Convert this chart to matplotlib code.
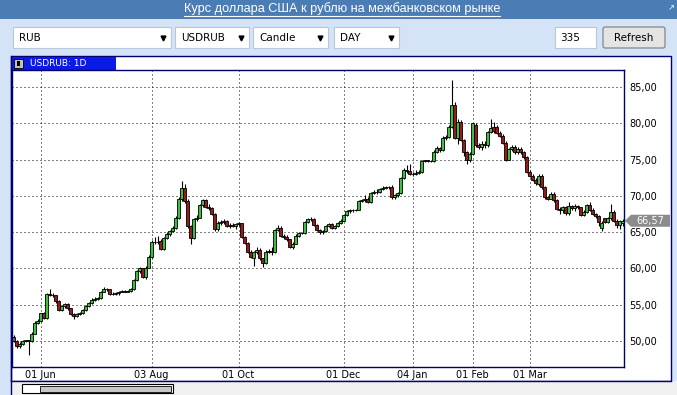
import numpy as np
import matplotlib
matplotlib.use("Agg")
import matplotlib.pyplot as plt
from matplotlib.patches import Rectangle, Polygon, FancyBboxPatch

# USDRUB daily candles, late May 2015 - end of March 2016
opens = [50.6, 50.0, 49.3, 49.6, 50.0, 50.1, 50.0, 51.0, 52.5, 52.8,
         53.8, 53.2, 56.5, 56.4, 56.3, 55.5, 54.3, 54.8, 55.1, 54.5,
         53.7, 53.4, 53.7, 53.8, 54.3, 54.8, 55.2, 55.7, 55.8, 55.9,
         56.8, 57.2, 57.1, 56.5, 56.5, 56.6, 56.8, 56.9, 56.8, 56.9,
         57.1, 58.4, 59.7, 60.0, 58.8, 60.1, 61.6, 63.7, 63.6, 63.8,
         62.7, 64.2, 64.8, 65.1, 65.6, 67.0, 69.6, 71.1, 69.3, 65.8,
         64.2, 66.8, 67.0, 68.7, 69.4, 68.5, 68.3, 67.5, 65.4, 66.3,
         66.4, 66.5, 65.9, 66.0, 65.9, 66.1, 66.2, 64.4, 63.5, 62.3,
         61.4, 62.2, 62.6, 61.4, 60.8, 62.3, 62.4, 62.2, 65.3, 65.6,
         64.5, 64.4, 64.0, 63.0, 63.4, 64.5, 64.9, 64.9, 66.4, 66.8,
         66.8, 66.0, 65.3, 65.0, 65.1, 65.8, 66.1, 65.6, 65.8, 66.2,
         66.6, 67.3, 67.9, 68.0, 68.0, 68.1, 69.3, 69.4, 69.5, 69.1,
         70.4, 70.6, 70.5, 71.0, 71.1, 71.2, 71.2, 69.8, 70.1, 70.4,
         72.4, 73.6, 73.4, 73.0, 73.0, 73.1, 73.3, 74.8, 74.9, 74.8,
         74.8, 76.1, 76.6, 76.3, 78.0, 78.1, 79.5, 82.5, 78.0, 80.2,
         77.7, 76.0, 75.0, 75.8, 79.8, 77.0, 76.8, 77.2, 77.0, 78.8,
         79.5, 79.5, 78.7, 78.3, 77.3, 75.0, 76.4, 76.8, 76.0, 76.5,
         76.0, 75.3, 73.3, 72.8, 72.2, 71.6, 72.8, 71.2, 69.8, 69.6,
         70.3, 69.4, 68.2, 68.0, 68.4, 67.7, 68.6, 68.3, 68.6, 68.4,
         67.4, 67.8, 68.7, 68.1, 67.5, 67.2, 65.6, 66.9, 66.4, 66.9,
         67.8, 66.6, 66.0, 66.2]
highs = [50.8, 50.1, 49.8, 50.2, 50.2, 50.2, 51.2, 52.7, 53.0, 53.9,
         54.0, 56.6, 57.2, 56.6, 56.4, 55.6, 54.9, 55.3, 55.2, 54.6,
         53.9, 53.9, 54.0, 54.4, 54.9, 55.4, 55.9, 56.0, 56.1, 56.9,
         57.4, 57.3, 57.2, 56.7, 56.7, 56.9, 57.0, 57.0, 57.0, 57.3,
         58.6, 59.8, 60.2, 60.1, 60.3, 61.8, 63.9, 64.4, 64.5, 64.0,
         64.4, 65.0, 65.3, 65.8, 67.2, 69.8, 72.1, 71.7, 69.5, 66.0,
         67.0, 67.3, 68.9, 69.6, 69.5, 68.9, 68.5, 67.7, 66.5, 66.7,
         66.8, 66.7, 66.3, 66.3, 66.2, 66.4, 66.3, 64.5, 63.6, 62.5,
         62.4, 62.9, 62.8, 61.5, 62.5, 62.7, 62.9, 65.4, 66.0, 65.8,
         64.8, 64.6, 64.1, 63.6, 64.7, 65.0, 65.0, 66.5, 67.0, 67.1,
         66.9, 66.1, 65.5, 65.3, 66.0, 66.3, 66.2, 66.0, 66.4, 66.8,
         67.4, 68.1, 68.2, 68.2, 68.2, 69.4, 69.6, 70.1, 69.8, 70.5,
         70.8, 70.9, 71.1, 71.4, 71.3, 71.4, 71.5, 70.3, 70.6, 72.6,
         73.8, 74.2, 74.4, 73.3, 73.5, 73.6, 75.0, 75.0, 75.0, 74.9,
         76.3, 76.9, 76.8, 78.2, 78.4, 79.8, 86.0, 83.0, 80.6, 80.5,
         77.9, 76.2, 76.0, 80.1, 80.0, 77.3, 77.5, 77.6, 79.0, 80.6,
         80.2, 79.7, 78.9, 78.5, 77.5, 76.6, 77.0, 77.0, 76.7, 76.7,
         76.2, 75.5, 73.5, 73.0, 72.5, 73.0, 73.0, 71.3, 70.0, 70.5,
         70.5, 69.5, 68.4, 68.6, 68.6, 69.2, 68.8, 68.9, 68.8, 68.5,
         68.0, 68.9, 69.2, 68.3, 67.7, 67.4, 66.5, 67.0, 67.1, 68.9,
         68.0, 66.8, 66.7, 66.8]
lows = [49.9, 49.1, 49.1, 49.5, 49.8, 48.1, 49.9, 50.9, 52.3, 52.6,
        53.0, 53.1, 56.2, 56.1, 55.3, 54.1, 54.2, 54.6, 54.3, 53.6,
        53.1, 53.3, 53.6, 53.7, 54.2, 54.7, 55.1, 55.5, 55.6, 55.8,
        56.7, 56.9, 56.4, 56.3, 56.3, 56.4, 56.7, 56.7, 56.7, 56.8,
        57.0, 58.3, 59.4, 58.7, 58.6, 60.0, 61.5, 63.3, 63.3, 62.5,
        62.6, 64.0, 64.5, 65.0, 65.4, 66.8, 69.3, 69.0, 65.6, 63.4,
        64.0, 66.5, 66.9, 68.5, 68.3, 68.1, 67.3, 65.2, 65.1, 66.0,
        66.1, 65.7, 65.6, 65.7, 65.5, 65.8, 64.2, 63.3, 62.1, 61.4,
        60.3, 62.0, 61.2, 60.2, 60.6, 62.1, 61.9, 62.1, 65.1, 64.3,
        64.1, 63.8, 62.8, 62.7, 63.3, 64.4, 64.7, 64.8, 66.3, 66.6,
        65.9, 65.1, 64.8, 64.8, 65.0, 65.7, 65.4, 65.4, 65.7, 66.1,
        66.5, 67.2, 67.7, 67.8, 67.9, 68.0, 69.1, 69.2, 69.0, 69.0,
        70.2, 70.3, 70.4, 70.8, 70.9, 71.0, 69.6, 69.6, 69.9, 70.3,
        72.3, 73.2, 72.9, 72.8, 72.9, 73.0, 73.2, 74.7, 74.7, 74.7,
        74.7, 75.9, 76.0, 76.2, 77.7, 78.0, 79.3, 77.8, 77.1, 77.5,
        75.5, 74.4, 74.6, 75.7, 76.7, 76.5, 76.3, 76.6, 76.8, 78.6,
        78.7, 78.5, 78.1, 77.1, 74.8, 74.9, 76.2, 75.8, 75.8, 75.8,
        75.1, 73.1, 72.6, 72.0, 71.5, 71.4, 71.0, 69.6, 69.4, 69.5,
        69.2, 68.0, 67.5, 67.7, 67.3, 67.4, 68.1, 67.9, 68.2, 67.2,
        67.2, 67.7, 67.9, 67.3, 67.0, 65.9, 65.2, 66.2, 66.2, 66.7,
        66.4, 65.6, 65.5, 65.9]
closes = [50.0, 49.3, 49.6, 50.0, 50.1, 50.0, 51.0, 52.5, 52.8, 53.8,
          53.2, 56.5, 56.4, 56.3, 55.5, 54.3, 54.8, 55.1, 54.5, 53.7,
          53.4, 53.7, 53.8, 54.3, 54.8, 55.2, 55.7, 55.8, 55.9, 56.8,
          57.2, 57.1, 56.5, 56.5, 56.6, 56.8, 56.9, 56.8, 56.9, 57.1,
          58.4, 59.7, 60.0, 58.8, 60.1, 61.6, 63.7, 63.6, 63.7, 62.7,
          64.2, 64.8, 65.1, 65.6, 67.0, 69.6, 71.1, 69.3, 65.8, 64.2,
          66.8, 67.0, 68.7, 69.4, 68.5, 68.3, 67.5, 65.4, 66.3, 66.4,
          66.5, 65.9, 66.0, 65.9, 66.1, 66.2, 64.4, 63.5, 62.3, 61.6,
          62.2, 62.6, 61.4, 60.8, 62.3, 62.4, 62.2, 65.3, 65.6, 64.5,
          64.4, 64.0, 63.0, 63.4, 64.5, 64.9, 64.9, 66.4, 66.8, 66.8,
          66.0, 65.3, 65.0, 65.1, 65.8, 66.1, 65.6, 65.8, 66.2, 66.6,
          67.3, 67.9, 68.0, 68.0, 68.1, 69.3, 69.4, 69.5, 69.1, 70.4,
          70.6, 70.5, 71.0, 71.1, 71.2, 71.2, 69.8, 70.1, 70.4, 72.4,
          73.6, 73.4, 73.0, 73.0, 73.1, 73.3, 74.8, 74.9, 74.8, 74.8,
          76.1, 76.6, 76.3, 78.0, 78.1, 79.5, 82.5, 78.0, 80.2, 77.7,
          76.0, 75.0, 75.8, 80.0, 77.0, 76.8, 77.2, 77.0, 78.8, 79.4,
          78.9, 78.7, 78.3, 77.3, 75.0, 76.4, 76.8, 76.0, 76.5, 76.0,
          75.3, 73.3, 72.8, 72.2, 71.8, 72.8, 71.2, 69.8, 69.6, 70.3,
          69.4, 68.2, 68.0, 68.4, 67.7, 68.6, 68.3, 68.6, 68.4, 67.4,
          67.8, 68.7, 68.1, 67.5, 67.2, 66.4, 66.2, 66.4, 66.9, 67.8,
          66.6, 66.0, 66.5, 66.57]

tick_bars = [9, 46, 75, 110, 133, 153, 172]
tick_labels = ['01 Jun', '03 Aug', '01 Oct', '01 Dec', '04 Jan', '01 Feb', '01 Mar']
price_ticks = [50, 55, 60, 65, 70, 75, 80, 85]

title = "Курс доллара США к рублю на межбанковском рынке"
W, H = 677, 395
NAVY = '#00006e'

fig = plt.figure(figsize=(W / 100, H / 100), dpi=100)
fig.patch.set_facecolor('#d4e3f6')

# background layer in pixel coordinates (y down)
bg = fig.add_axes([0, 0, 1, 1], zorder=-1)
bg.set_xlim(0, W)
bg.set_ylim(H, 0)
bg.axis('off')


def box(x0, y0, x1, y1, **kw):
    bg.add_patch(Rectangle((x0, y0), x1 - x0, y1 - y0, **kw))


# header bar + title
box(0, 0, W, 19, facecolor='#4b7cb3', edgecolor='none')
t = bg.text(342, 9, title, color='white', fontsize=9.2, ha='center', va='center',
            family=['Liberation Sans', 'DejaVu Sans'])
bg.text(671, 8, '\u2197', color='white', fontsize=6, ha='center', va='center')

# controls row
for x0, x1, label in [(13, 171, 'RUB'), (175, 249, 'USDRUB'), (253, 328, 'Candle'), (334, 399, 'DAY')]:
    box(x0, 27, x1, 48, facecolor='white', edgecolor='#b8c8dc', lw=0.8)
    bg.text(x0 + 6, 38, label, fontsize=7.5, va='center', ha='left')
    bg.plot([x1 - 8], [38], marker='v', ms=3.5, color='black')
box(555, 27, 596, 48, facecolor='white', edgecolor='#b8c8dc', lw=0.8)
bg.text(560, 38, '335', fontsize=7.5, va='center', ha='left')
bg.add_patch(FancyBboxPatch((603, 27), 62, 21, boxstyle='round,pad=0,rounding_size=2',
                            facecolor='#e4e4e4', edgecolor='#7a7a7a', lw=0.8))
bg.text(634, 38, 'Refresh', fontsize=7.5, va='center', ha='center')

# chart panel
box(11, 56, 671, 381, facecolor='white', edgecolor=NAVY, lw=1)
box(12, 57, 116, 70, facecolor='#0c1ae8', edgecolor='none')
box(14, 58.5, 23, 68, facecolor='#c0c0c0', edgecolor='black', lw=0.6)
box(17, 60.5, 20, 66, facecolor='black', edgecolor='none')
bg.text(30, 63.5, 'USDRUB: 1D', color='white', fontsize=6.5, va='center', ha='left')

# scrollbar strip
box(11, 381, 677, 395, facecolor='#f0f0f0', edgecolor='none')
bg.plot([11, 671], [381, 381], color=NAVY, lw=1)
bg.plot([11, 11], [56, 395], color=NAVY, lw=1)
box(22, 384, 173, 393, facecolor='white', edgecolor='black', lw=0.8)
box(40, 385.5, 171, 391.5, facecolor='#c8c8c8', edgecolor='black', lw=0.6)

# price chart
ax = fig.add_axes([12 / W, (H - 367) / H, 612 / W, 297 / H])
x = np.arange(len(closes))
o = np.array(opens)
c = np.array(closes)
colors = np.where(c >= o, '#3fbf3f', '#9a1a1a').tolist()
colors[0] = '#7d3fa8'
ax.vlines(x, lows, highs, color='black', lw=0.8, zorder=2)
ax.bar(x, np.abs(c - o), bottom=np.minimum(o, c), width=0.72, color=colors,
       edgecolor='black', linewidth=0.6, zorder=3)

ax.set_xlim(-0.5, len(closes) - 0.5)
ax.set_ylim(46.42, 87.34)
ax.set_xticks(tick_bars)
ax.set_xticklabels(tick_labels)
ax.set_yticks(price_ticks)
ax.set_yticklabels(['{:.2f}'.format(v).replace('.', ',') for v in price_ticks])
ax.yaxis.tick_right()
ax.tick_params(length=0, labelsize=7, colors='black')
ax.tick_params(axis='y', pad=4)
ax.tick_params(axis='x', pad=2.5)
ax.grid(True, color='black', lw=0.72, linestyle=(0, (1, 3)), zorder=1)
ax.set_axisbelow(True)
for s in ax.spines.values():
    s.set_color(NAVY)
    s.set_linewidth(1)

# last price marker
fig.canvas.draw()
_, yc = bg.transData.inverted().transform(ax.transData.transform((0, closes[-1])))
bg.add_patch(Polygon([(625, yc), (631, yc - 6), (670, yc - 6), (670, yc + 6), (631, yc + 6)],
                     closed=True, facecolor='#8c8c8c', edgecolor='none'))
bg.text(650, yc, '{:.2f}'.format(closes[-1]).replace('.', ','), color='white',
        fontsize=7, ha='center', va='center')

# underline title
bb = t.get_window_extent(fig.canvas.get_renderer())
(tx0, _), (tx1, _) = bg.transData.inverted().transform([(bb.x0, bb.y0), (bb.x1, bb.y0)])
bg.plot([tx0, tx1], [15.5, 15.5], color='white', lw=0.8)

fig.savefig('out.png', dpi=100)
